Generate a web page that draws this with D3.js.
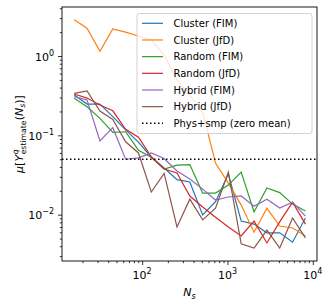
<!DOCTYPE html>
<html>
<head>
<meta charset="utf-8">
<script src="https://cdn.jsdelivr.net/npm/d3@7/dist/d3.min.js"></script>
<style>
  body { margin: 0; background: #fff; }
  svg { font-family: "DejaVu Sans", sans-serif; }
</style>
</head>
<body>
<div id="chart"></div>
<script>
// sample sizes (x values), 16 * sqrt(2)^k
const sampleSizes = [16, 22.6, 32, 45.3, 64, 90.5, 128, 181, 256, 362, 512, 724, 1024, 1448, 2048, 2896, 4096, 5793, 8192];

const clusterFIM = [0.322, 0.248, 0.248, 0.172, 0.117, 0.082, 0.053, 0.0387, 0.0277, 0.0258, 0.0099, 0.0146, 0.0325, 0.0083, 0.0076, 0.0059, 0.0059, 0.0045, 0.0091];
const clusterJfD = [2.87, 2.24, 1.15, 2.19, 2.0, 1.79, 1.59, 1.03, 0.50, 0.32, 0.197, 0.0447, 0.025, 0.0132, 0.0060, 0.0121, 0.0072, 0.0068, 0.0054];
const randomFIM = [0.293, 0.229, 0.164, 0.109, 0.111, 0.065, 0.053, 0.0376, 0.0422, 0.0428, 0.0187, 0.0187, 0.0236, 0.0345, 0.0108, 0.0217, 0.019, 0.0136, 0.0111];
const randomJfD = [0.332, 0.295, 0.241, 0.204, 0.119, 0.095, 0.0537, 0.0376, 0.0335, 0.0172, 0.0125, 0.0093, 0.0070, 0.0054, 0.0083, 0.0044, 0.0081, 0.0144, 0.0076];
const hybridFIM = [0.307, 0.279, 0.085, 0.125, 0.050, 0.052, 0.060, 0.051, 0.0355, 0.0281, 0.021, 0.0153, 0.0167, 0.0172, 0.0128, 0.0157, 0.0121, 0.0144, 0.0096];
const hybridJfD = [0.339, 0.362, 0.203, 0.159, 0.083, 0.060, 0.0193, 0.0332, 0.0070, 0.0157, 0.0086, 0.0121, 0.0345, 0.0043, 0.0038, 0.0064, 0.0038, 0.0091, 0.0051];
const physSmpZeroMean = 0.05;

const seriesNames = ['Cluster (FIM)', 'Cluster (JfD)', 'Random (FIM)', 'Random (JfD)', 'Hybrid (FIM)', 'Hybrid (JfD)'];
const seriesValues = [clusterFIM, clusterJfD, randomFIM, randomJfD, hybridFIM, hybridJfD];
const refName = 'Phys+smp (zero mean)';

const xTickValues = [100, 1000, 10000];
const yTickValues = [0.01, 0.1, 1];

const width = 332;
const height = 306;
const margins = { top: 7, bottom: 45, left: 62, right: 15 };
const colors = ['#1f77b4', '#ff7f0e', '#2ca02c', '#d62728', '#9467bd', '#8c564b'];

const svg = d3.select('#chart')
  .append('svg')
  .attr('width', width)
  .attr('height', height);

const xScale = d3.scaleLog()
  .domain([11.5, 11200])
  .range([margins.left, width - margins.right]);

const yScale = d3.scaleLog()
  .domain([Math.pow(10, -2.584), Math.pow(10, 0.618)])
  .range([height - margins.bottom, margins.top]);

function isMajor(v) {
  return Math.abs(Math.log10(v) - Math.round(Math.log10(v))) < 1e-9;
}

// lines
const line = d3.line()
  .x(function(d) { return xScale(d[0]); })
  .y(function(d) { return yScale(d[1]); });

svg.append('g')
  .attr('class', 'series')
  .selectAll('path')
  .data(seriesValues)
  .enter()
  .append('path')
  .attr('d', function(vals) { return line(vals.map(function(v, i) { return [sampleSizes[i], v]; })); })
  .style('fill', 'none')
  .style('stroke', function(d, i) { return colors[i]; })
  .style('stroke-width', 1.2);

svg.append('line')
  .attr('x1', margins.left)
  .attr('x2', width - margins.right)
  .attr('y1', yScale(physSmpZeroMean))
  .attr('y2', yScale(physSmpZeroMean))
  .style('stroke', '#000')
  .style('stroke-width', 1.5)
  .style('stroke-dasharray', '1.5,2.5');

// axes
const xTicksAll = xScale.ticks();
const yTicksAll = yScale.ticks();

function styleAxis(g) {
  g.select('.domain').remove();
  g.selectAll('line').style('stroke', '#000').style('stroke-width', 0.8);
}

svg.append('g')
  .attr('transform', 'translate(0,' + (height - margins.bottom) + ')')
  .call(d3.axisBottom(xScale).tickValues(xTicksAll.filter(function(v) { return !isMajor(v); })).tickSize(2.2).tickFormat(''))
  .call(styleAxis);

const xMajor = svg.append('g')
  .attr('transform', 'translate(0,' + (height - margins.bottom) + ')')
  .call(d3.axisBottom(xScale).tickValues(xTickValues).tickSize(4).tickFormat(''))
  .call(styleAxis);

svg.append('g')
  .attr('transform', 'translate(' + margins.left + ',0)')
  .call(d3.axisLeft(yScale).tickValues(yTicksAll.filter(function(v) { return !isMajor(v); })).tickSize(2.2).tickFormat(''))
  .call(styleAxis);

svg.append('g')
  .attr('transform', 'translate(' + margins.left + ',0)')
  .call(d3.axisLeft(yScale).tickValues(yTickValues).tickSize(4).tickFormat(''))
  .call(styleAxis);

function expLabel(sel, v) {
  const e = Math.round(Math.log10(v));
  sel.append('tspan').text('10');
  sel.append('tspan')
    .attr('dy', -5)
    .style('font-size', '8px')
    .text(e < 0 ? '\u2212' + (-e) : String(e));
}

svg.append('g')
  .selectAll('text')
  .data(xTickValues)
  .enter()
  .append('text')
  .attr('x', function(d) { return xScale(d); })
  .attr('y', height - margins.bottom + 18)
  .style('font-size', '11px')
  .style('text-anchor', 'middle')
  .each(function(d) { expLabel(d3.select(this), d); });

svg.append('g')
  .selectAll('text')
  .data(yTickValues)
  .enter()
  .append('text')
  .attr('x', margins.left - 8)
  .attr('y', function(d) { return yScale(d) + 4.5; })
  .style('font-size', '11px')
  .style('text-anchor', 'end')
  .each(function(d) { expLabel(d3.select(this), d); });

// frame
svg.append('rect')
  .attr('x', margins.left)
  .attr('y', margins.top)
  .attr('width', width - margins.left - margins.right)
  .attr('height', height - margins.top - margins.bottom)
  .style('fill', 'none')
  .style('stroke', '#000')
  .style('stroke-width', 0.9);

// x label N_s
const xLabel = svg.append('text')
  .attr('x', (margins.left + width - margins.right) / 2)
  .attr('y', height - 10)
  .style('font-size', '11px')
  .style('text-anchor', 'middle')
  .style('font-style', 'italic');
xLabel.append('tspan').text('N');
xLabel.append('tspan').attr('dy', 2.5).style('font-size', '8px').text('s');

// y label  mu[Y^q_estimate(N_s)], built piece by piece in a rotated group
const yLabelGroup = svg.append('g')
  .attr('transform', 'translate(22.5,' + ((margins.top + height - margins.bottom) / 2) + ') rotate(-90)');

const yPieces = [
  { t: '\u03bc', size: 11, italic: true, dy: 0 },
  { t: '[', size: 11, italic: false, dy: 0 },
  { t: 'Y', size: 11, italic: true, dy: 0 },
  { sup: 'q', sub: 'estimate', size: 7.7 },
  { t: '(', size: 11, italic: false, dy: 0 },
  { t: 'N', size: 11, italic: true, dy: 0 },
  { t: 's', size: 7.7, italic: true, dy: 2.5 },
  { t: ')', size: 11, italic: false, dy: 0 },
  { t: ']', size: 11, italic: false, dy: 0 }
];

let cursor = 0;
const placed = [];
yPieces.forEach(function(p) {
  if (p.sup) {
    const a = yLabelGroup.append('text').attr('y', -5).style('font-size', p.size + 'px').style('font-style', 'italic').text(p.sup);
    const b = yLabelGroup.append('text').attr('y', 3).style('font-size', p.size + 'px').text(p.sub);
    a.attr('x', cursor + 0.5);
    b.attr('x', cursor + 0.5);
    placed.push(a, b);
    cursor += Math.max(a.node().getComputedTextLength(), b.node().getComputedTextLength()) + 0.8;
  } else {
    const t = yLabelGroup.append('text')
      .attr('x', cursor)
      .attr('y', p.dy)
      .style('font-size', p.size + 'px')
      .style('font-style', p.italic ? 'italic' : 'normal')
      .text(p.t);
    placed.push(t);
    cursor += t.node().getComputedTextLength();
  }
});
placed.forEach(function(t) { t.attr('x', +t.attr('x') - cursor / 2); });

// legend
const legend = svg.append('g').attr('class', 'legend');
legend.append('rect')
  .attr('x', 137)
  .attr('y', 13.5)
  .attr('width', 175)
  .attr('height', 120)
  .attr('rx', 2.5)
  .style('fill', '#fff')
  .style('fill-opacity', 0.8)
  .style('stroke', '#cccccc')
  .style('stroke-width', 0.9);

const legendNames = seriesNames.concat([refName]);
const legendRows = legend.selectAll('g.row')
  .data(legendNames)
  .enter()
  .append('g')
  .attr('class', 'row')
  .attr('transform', function(d, i) { return 'translate(0,' + (23.3 + i * 16.67) + ')'; });

legendRows.append('line')
  .attr('x1', 142)
  .attr('x2', 163)
  .style('stroke', function(d, i) { return i < colors.length ? colors[i] : '#000'; })
  .style('stroke-width', function(d, i) { return i < colors.length ? 1.2 : 1.5; })
  .style('stroke-dasharray', function(d, i) { return i < colors.length ? null : '1.5,2.5'; });

legendRows.append('text')
  .attr('x', 173.5)
  .attr('y', 3.6)
  .style('font-size', '10px')
  .text(function(d) { return d; });
</script>
</body>
</html>
